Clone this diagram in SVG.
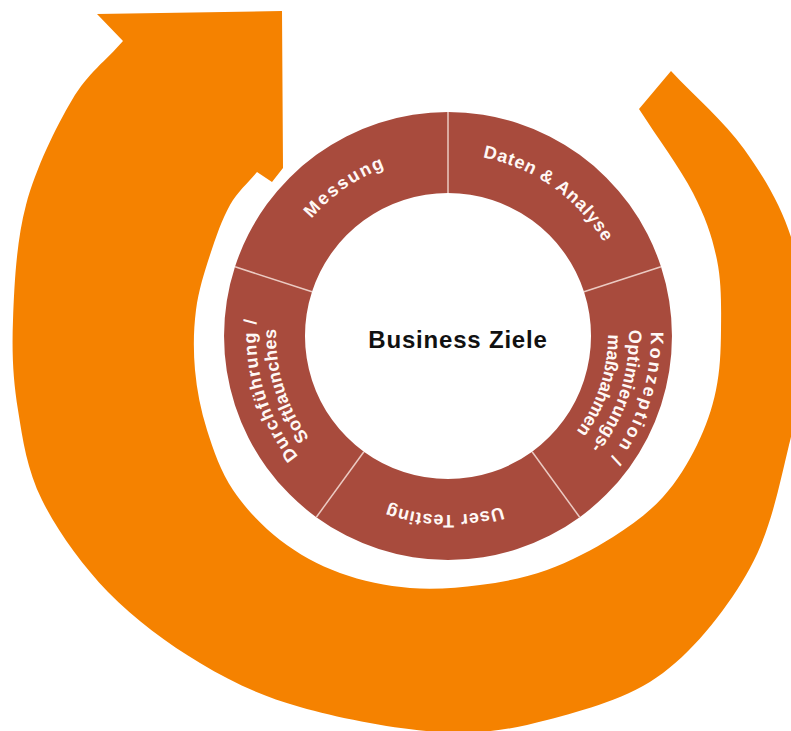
<svg xmlns="http://www.w3.org/2000/svg" xmlns:xlink="http://www.w3.org/1999/xlink" width="791" height="731" viewBox="0 0 791 731">
  <style>
    .arrow { fill: #F58200; }
    .seg { fill: #A84B3D; }
    .divider { stroke: #EBCAC2; stroke-width: 1.5; fill: none; }
    .lbl { font-family: "Liberation Sans", Arial, Helvetica, sans-serif; font-weight: bold; font-size: 18px; fill: #FFF8F5; }
    .title { font-family: "Liberation Sans", Arial, Helvetica, sans-serif; font-weight: bold; font-size: 24px; fill: #111111; letter-spacing: 0.8px; }
  </style>
  <defs>
    <!-- clockwise baseline arcs around the ring centre (448,336) -->
    <path id="arc-messung" d="M268.7,351.7 A180,180 0 0 1 524.1,172.9"/>
    <path id="arc-daten" d="M371.1,171.1 A182,182 0 0 1 629.3,351.9"/>
    <path id="arc-konz1" d="M598.9,200.2 A203,203 0 0 1 490.2,534.6"/>
    <path id="arc-konz2" d="M582.5,214.9 A181,181 0 0 1 485.6,513.0"/>
    <path id="arc-konz3" d="M566.9,228.9 A160,160 0 0 1 481.3,492.5"/>
    <path id="arc-user" d="M601.4,428.2 A179,179 0 0 1 291.4,422.8"/>
    <path id="arc-durch1" d="M404.8,523.1 A192,192 0 0 1 307.6,205.1"/>
    <path id="arc-durch2" d="M409.3,503.6 A172,172 0 0 1 322.2,218.7"/>
  </defs>

  <!-- widening circular arrow, running clockwise from the upper right round to the head at the top -->
  <g id="cycle-arrow">
    <path class="arrow" d="M671,71
      C695.3,97 724,121.3 744,149
      C764,176.7 780.8,205.2 791,237
      C801.2,268.8 805.3,305.3 805,340
      C804.7,374.7 798.2,407 789,445
      C779.8,483 771,530 750,568
      C729,606 696.8,647.7 663,673
      C629.2,698.3 584.2,710.2 547,720
      C509.8,729.8 481.2,734.2 440,732
      C398.8,729.8 340,718.5 300,707
      C260,695.5 232,682.2 200,663
      C168,643.8 134.3,619.2 108,592
      C81.7,564.8 57,530.3 42,500
      C27,469.7 22.8,440 18,410
      C13.2,380 11.7,354.2 13,320
      C14.3,285.8 16.2,241.7 26,205
      C35.8,168.3 55.8,127.3 72,100
      C88.2,72.7 106,60.7 123,41
      L97,14 L282,11 L283,168 L272,182 L257,172
      C248,183 237.8,191.2 230,205
      C222.2,218.8 215.7,237.5 210,255
      C204.3,272.5 198.5,290.8 196,310
      C193.5,329.2 193.2,350 195,370
      C196.8,390 200.7,410 207,430
      C213.3,450 220.8,471.7 233,490
      C245.2,508.3 262.2,526.2 280,540
      C297.8,553.8 318.3,565 340,573
      C361.7,581 386.7,586 410,588
      C433.3,590 457.2,588 480,585
      C502.8,582 524.8,578 547,570
      C569.2,562 593.7,549.2 613,537
      C632.3,524.8 649,512.3 663,497
      C677,481.7 688.2,462.8 697,445
      C705.8,427.2 712,409.2 716,390
      C720,370.8 720.8,351.7 721,330
      C721.2,308.3 721.7,282.8 717,260
      C712.3,237.2 706,218.2 693,193
      C680,167.8 657,137 639,109 Z"/>
  </g>

  <!-- ring segments -->
  <g id="seg-messung">
    <path class="seg" d="M235.0,266.8 A224,224 0 0 1 448,112 L448,193 A143,143 0 0 0 312.0,291.8 Z"/>
    <text class="lbl"><textPath xlink:href="#arc-messung" href="#arc-messung" startOffset="50%" text-anchor="middle" textLength="90" lengthAdjust="spacing">Messung</textPath></text>
  </g>
  <g id="seg-daten">
    <path class="seg" d="M448,112 A224,224 0 0 1 661.0,266.8 L584.0,291.8 A143,143 0 0 0 448,193 Z"/>
    <text class="lbl"><textPath xlink:href="#arc-daten" href="#arc-daten" startOffset="50%" text-anchor="middle" textLength="152" lengthAdjust="spacing">Daten &amp; Analyse</textPath></text>
  </g>
  <g id="seg-konzeption">
    <path class="seg" d="M661.0,266.8 A224,224 0 0 1 579.7,517.2 L532.1,451.7 A143,143 0 0 0 584.0,291.8 Z"/>
    <text class="lbl"><textPath xlink:href="#arc-konz1" href="#arc-konz1" startOffset="50%" text-anchor="middle" textLength="136" lengthAdjust="spacing">Konzeption /</textPath></text>
    <text class="lbl"><textPath xlink:href="#arc-konz2" href="#arc-konz2" startOffset="50%" text-anchor="middle" textLength="126" lengthAdjust="spacing">Optimierungs-</textPath></text>
    <text class="lbl"><textPath xlink:href="#arc-konz3" href="#arc-konz3" startOffset="50%" text-anchor="middle" textLength="104" lengthAdjust="spacing">maßnahmen</textPath></text>
  </g>
  <g id="seg-user-testing">
    <path class="seg" d="M579.7,517.2 A224,224 0 0 1 316.3,517.2 L363.9,451.7 A143,143 0 0 0 532.1,451.7 Z"/>
    <text class="lbl"><textPath xlink:href="#arc-user" href="#arc-user" startOffset="50%" text-anchor="middle" textLength="116" lengthAdjust="spacing">User Testing</textPath></text>
  </g>
  <g id="seg-durchfuehrung">
    <path class="seg" d="M316.3,517.2 A224,224 0 0 1 235.0,266.8 L312.0,291.8 A143,143 0 0 0 363.9,451.7 Z"/>
    <text class="lbl"><textPath xlink:href="#arc-durch1" href="#arc-durch1" startOffset="50%" text-anchor="middle" textLength="146" lengthAdjust="spacing">Durchführung /</textPath></text>
    <text class="lbl"><textPath xlink:href="#arc-durch2" href="#arc-durch2" startOffset="50%" text-anchor="middle" textLength="116" lengthAdjust="spacing">Softlaunches</textPath></text>
  </g>

  <!-- thin separators between the segments -->
  <g id="connectors">
    <line class="divider" x1="448" y1="112" x2="448" y2="193"/>
    <line class="divider" x1="661.0" y1="266.8" x2="584.0" y2="291.8"/>
    <line class="divider" x1="579.7" y1="517.2" x2="532.1" y2="451.7"/>
    <line class="divider" x1="316.3" y1="517.2" x2="363.9" y2="451.7"/>
    <line class="divider" x1="235.0" y1="266.8" x2="312.0" y2="291.8"/>
  </g>

  <g id="hub">
    <text class="title" x="458" y="348" text-anchor="middle">Business Ziele</text>
  </g>
</svg>
